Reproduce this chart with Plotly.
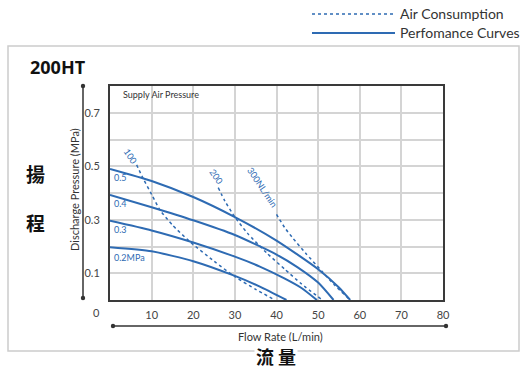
import plotly.graph_objects as go

# ---------------- data ----------------
x_ticks = [0, 10, 20, 30, 40, 50, 60, 70, 80]
x_ticktext = ["", "10", "20", "30", "40", "50", "60", "70", "80"]
y_ticks = [0, 0.1, 0.2, 0.3, 0.4, 0.5, 0.6, 0.7, 0.8]
y_ticktext = ["", "0.1", "", "0.3", "", "0.5", "", "0.7", ""]

# performance curves (supply air pressure, MPa)
perf_05_x = [0, 10, 20, 30, 40, 50, 55, 57.7]
perf_05_y = [0.49, 0.445, 0.385, 0.31, 0.222, 0.115, 0.047, 0]
perf_04_x = [0, 10, 20, 30, 40, 45, 50, 53.7]
perf_04_y = [0.393, 0.347, 0.298, 0.243, 0.17, 0.123, 0.065, 0]
perf_03_x = [0, 10, 20, 30, 36, 42, 46, 49.7]
perf_03_y = [0.296, 0.26, 0.215, 0.162, 0.125, 0.08, 0.045, 0]
perf_02_x = [0, 10, 20, 30, 36, 42.4]
perf_02_y = [0.197, 0.182, 0.145, 0.09, 0.05, 0]

# air consumption curves (NL/min)
air_100_x = [6.4, 8, 10, 12, 15, 19.2, 25, 30, 35, 39.6]
air_100_y = [0.505, 0.453, 0.395, 0.337, 0.28, 0.218, 0.145, 0.087, 0.04, 0]
air_200_x = [26, 27.6, 30, 33, 37.7, 42, 46, 51]
air_200_y = [0.42, 0.37, 0.31, 0.25, 0.175, 0.115, 0.06, 0]
air_300_x = [40, 42, 44, 47, 51, 54, 57.7]
air_300_y = [0.32, 0.27, 0.23, 0.175, 0.106, 0.055, 0]

perf_labels = ["0.5", "0.4", "0.3", "0.2MPa"]
perf_label_y = [0.457, 0.361, 0.262, 0.158]
air_labels = ["100", "200", "300NL/min"]
air_label_x = [5.05, 25.5, 36.6]
air_label_y = [0.538, 0.46, 0.419]

BLUE = "#2e6bb3"
DARK = "#333333"
FONT = "Lato"

# ---------------- figure ----------------
W, H = 530, 369
L, R, T, B = 110, 443, 86, 300


def px(x):
    return (x - L) / (R - L)


def py(y):
    return (B - y) / (B - T)


fig = go.Figure()

for xs, ys in [(perf_05_x, perf_05_y), (perf_04_x, perf_04_y),
               (perf_03_x, perf_03_y), (perf_02_x, perf_02_y)]:
    fig.add_trace(go.Scatter(x=xs, y=ys, mode="lines",
                             line=dict(color=BLUE, width=2, shape="spline", smoothing=0.6),
                             showlegend=False, hoverinfo="skip"))

for xs, ys in [(air_100_x, air_100_y), (air_200_x, air_200_y), (air_300_x, air_300_y)]:
    fig.add_trace(go.Scatter(x=xs, y=ys, mode="lines",
                             line=dict(color=BLUE, width=1.5, dash="dot", shape="spline", smoothing=0.6),
                             showlegend=False, hoverinfo="skip"))

annotations = []
for txt, yv in zip(perf_labels, perf_label_y):
    annotations.append(dict(x=0.5, y=yv, xref="x", yref="y", text=txt, showarrow=False,
                            xanchor="left", yanchor="middle",
                            font=dict(family=FONT, size=9, color=BLUE)))
for txt, xv, yv in zip(air_labels, air_label_x, air_label_y):
    annotations.append(dict(x=xv, y=yv, xref="x", yref="y", text=txt, showarrow=False,
                            textangle=56, xanchor="center", yanchor="middle",
                            font=dict(family=FONT, size=9, color=BLUE)))

annotations += [
    dict(x=px(121), y=py(95), xref="paper", yref="paper", text="Supply Air Pressure",
         showarrow=False, xanchor="left", yanchor="middle",
         font=dict(family=FONT, size=9, color=DARK)),
    dict(x=px(96), y=py(312), xref="paper", yref="paper", text="0", showarrow=False,
         xanchor="center", yanchor="middle", font=dict(family=FONT, size=11, color="#444")),
    dict(x=px(280), y=py(336), xref="paper", yref="paper", text="Flow Rate (L/min)",
         showarrow=False, xanchor="center", yanchor="middle",
         font=dict(family=FONT, size=11, color=DARK)),
    dict(x=px(74), y=py(190), xref="paper", yref="paper", text="Discharge Pressure (MPa)",
         showarrow=False, textangle=-90, xanchor="center", yanchor="middle",
         font=dict(family=FONT, size=11, color=DARK)),
    dict(x=px(28), y=py(67), xref="paper", yref="paper", text="<b>200HT</b>",
         showarrow=False, xanchor="left", yanchor="middle",
         font=dict(family="Open Sans", size=18, color="#111")),
    dict(x=px(398), y=py(14), xref="paper", yref="paper", text="Air Consumption",
         showarrow=False, xanchor="left", yanchor="middle",
         font=dict(family=FONT, size=14, color=DARK)),
    dict(x=px(398), y=py(33), xref="paper", yref="paper", text="Perfomance Curves",
         showarrow=False, xanchor="left", yanchor="middle",
         font=dict(family=FONT, size=14, color=DARK)),
    dict(x=px(35), y=py(173), xref="paper", yref="paper", text="<b>揚</b>",
         showarrow=False, xanchor="center", yanchor="middle",
         font=dict(family="Noto Sans CJK TC", size=19, color="#111")),
    dict(x=px(35), y=py(222), xref="paper", yref="paper", text="<b>程</b>",
         showarrow=False, xanchor="center", yanchor="middle",
         font=dict(family="Noto Sans CJK TC", size=19, color="#111")),
    dict(x=px(276), y=py(356), xref="paper", yref="paper", text="<b>流 量</b>",
         showarrow=False, xanchor="center", yanchor="middle", bgcolor="white", borderpad=1,
         font=dict(family="Noto Sans CJK TC", size=18, color="#111")),
]

shapes = [
    # outer box
    dict(type="rect", xref="paper", yref="paper", x0=px(8), x1=px(519), y0=py(46), y1=py(351),
         line=dict(color="#cccccc", width=1.5), layer="below"),
    # legend lines
    dict(type="line", xref="paper", yref="paper", x0=px(312), x1=px(393), y0=py(14), y1=py(14),
         line=dict(color=BLUE, width=1.5, dash="dot")),
    dict(type="line", xref="paper", yref="paper", x0=px(312), x1=px(395), y0=py(33), y1=py(33),
         line=dict(color=BLUE, width=2)),
    # decorative y axis
    dict(type="line", xref="paper", yref="paper", x0=px(83), x1=px(83), y0=py(86), y1=py(298),
         line=dict(color=DARK, width=1.5)),
    # decorative x axis
    dict(type="line", xref="paper", yref="paper", x0=px(113), x1=px(446), y0=py(326), y1=py(326),
         line=dict(color=DARK, width=1.5)),
]
for cx, cy in [(83, 86), (83, 298), (113, 326), (446, 326)]:
    shapes.append(dict(type="circle", xref="paper", yref="paper",
                       x0=px(cx - 2.2), x1=px(cx + 2.2), y0=py(cy + 2.2), y1=py(cy - 2.2),
                       fillcolor=DARK, line=dict(width=0)))

fig.update_layout(
    width=W, height=H,
    margin=dict(l=L, r=W - R, t=T, b=H - B),
    paper_bgcolor="white", plot_bgcolor="white",
    showlegend=False,
    xaxis=dict(range=[0, 80], tickvals=x_ticks, ticktext=x_ticktext, showgrid=True,
               gridcolor="#d4d4d4", gridwidth=1.6, zeroline=False,
               showline=True, mirror=True, linecolor="#3a3a3a", linewidth=2,
               ticks="", ticklabelstandoff=4,
               tickfont=dict(family=FONT, size=11, color="#444"), fixedrange=True),
    yaxis=dict(range=[0, 0.8], tickvals=y_ticks, ticktext=y_ticktext, showgrid=True,
               gridcolor="#d4d4d4", gridwidth=1.6, zeroline=False,
               showline=True, mirror=True, linecolor="#3a3a3a", linewidth=2,
               ticks="", ticklabelstandoff=6,
               tickfont=dict(family=FONT, size=11, color="#444"), fixedrange=True),
    annotations=annotations,
    shapes=shapes,
)

fig.write_html("out.html", config={"displayModeBar": False},
               post_script="document.body.style.margin='0';document.body.style.overflow='hidden';")
